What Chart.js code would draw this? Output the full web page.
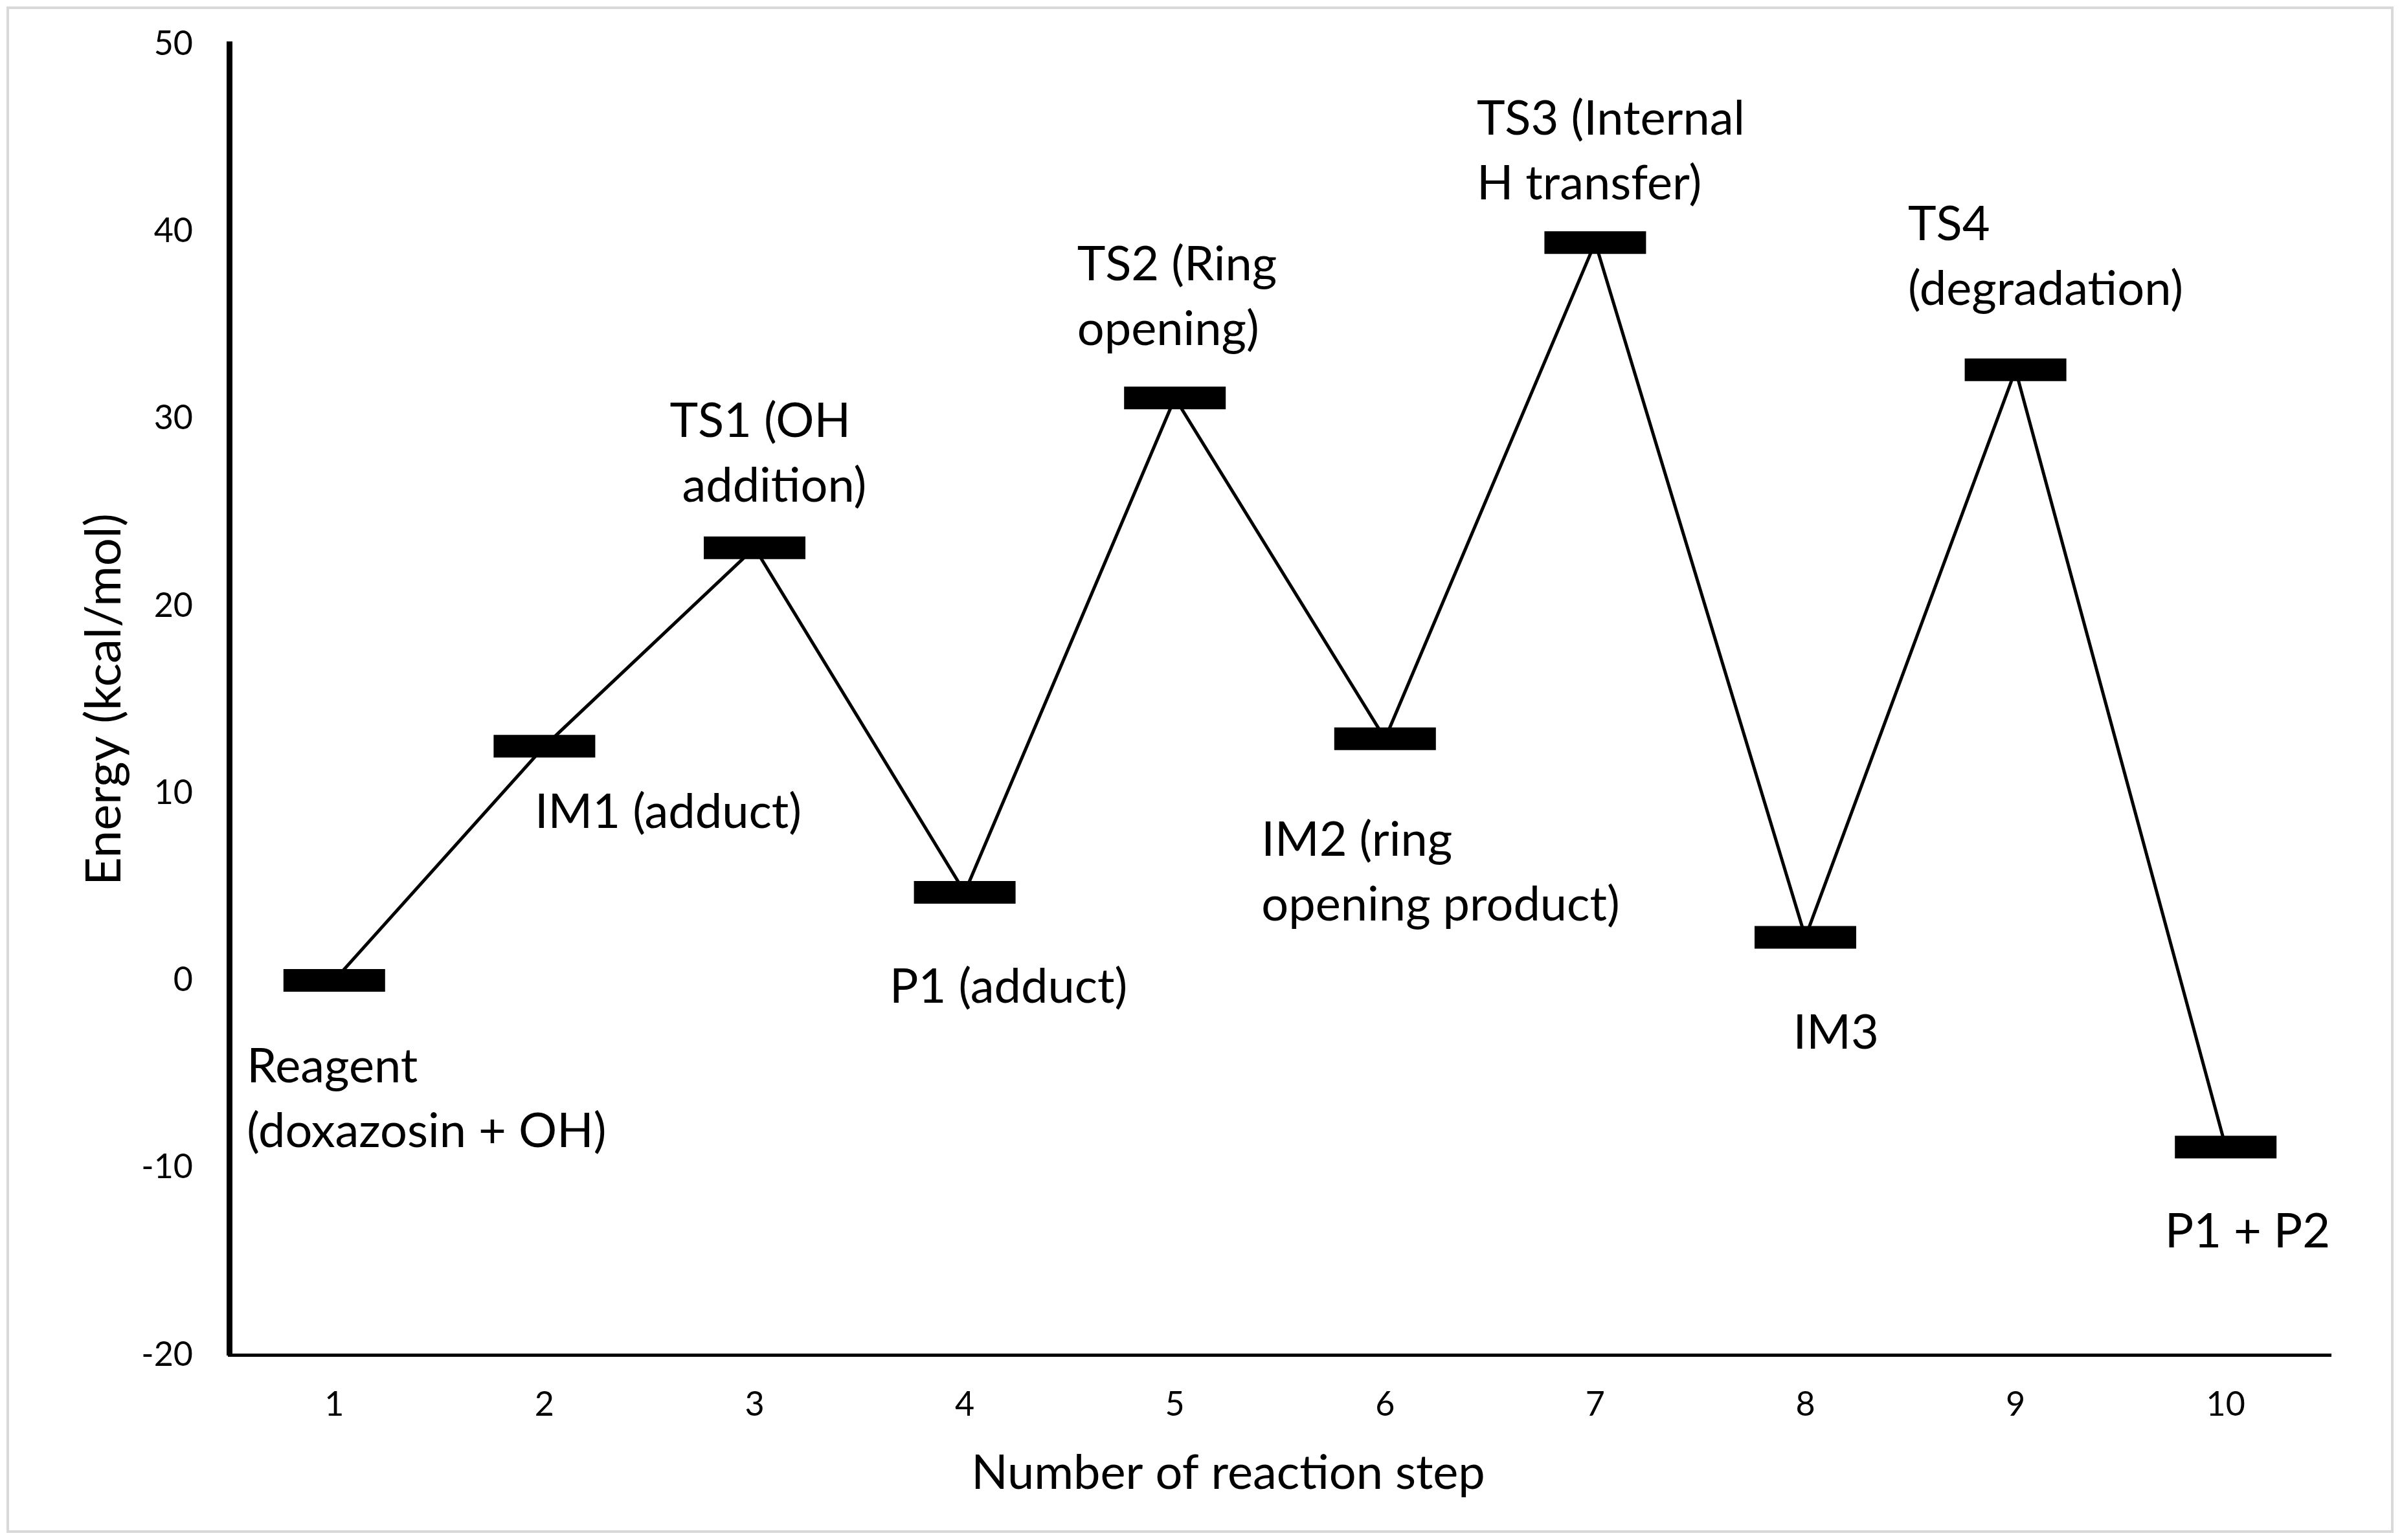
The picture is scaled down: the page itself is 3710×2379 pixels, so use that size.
<!DOCTYPE html>
<html>
<head>
<meta charset="utf-8">
<script src="https://cdn.jsdelivr.net/npm/chart.js@4.4.1/dist/chart.umd.min.js"></script>
<style>
  html, body { margin: 0; padding: 0; background: #ffffff; }
  #wrap { width: 3710px; height: 2379px; }
</style>
</head>
<body>
<div id="wrap"><canvas id="c" width="3710" height="2379"></canvas></div>
<script>
// ---- data ----
const categories = ['1', '2', '3', '4', '5', '6', '7', '8', '9', '10'];
const energies = [0, 12.5, 23.1, 4.7, 31.1, 12.9, 39.4, 2.3, 32.6, -8.9];
const stateLabels = [
  ['Reagent', '(doxazosin + OH)'],
  ['IM1 (adduct)'],
  ['TS1 (OH', ' addition)'],
  ['P1 (adduct)'],
  ['TS2 (Ring', 'opening)'],
  ['IM2 (ring', 'opening product)'],
  ['TS3 (Internal', 'H transfer)'],
  ['IM3'],
  ['TS4', '(degradation)'],
  ['P1 + P2']
];
const yMin = -20;
const yMax = 50;
const yStep = 10;
const xTitle = 'Number of reaction step';
const yTitle = 'Energy (kcal/mol)';

// ---- layout (label offsets from each point, in px: text left, first baseline) ----
const labelOffsets = [
  [-135, 158], [-15, 126], [-131, -171], [-116, 171], [-151, -182],
  [-191, 181], [-183, -167], [-19, 172], [-166, -200], [-94, 155]
];
const FONT = 'Lato, "Open Sans", "DejaVu Sans", sans-serif';

const frame = {
  id: 'frame',
  beforeDraw(chart) {
    const ctx = chart.ctx;
    ctx.save();
    ctx.fillStyle = '#ffffff';
    ctx.fillRect(0, 0, chart.width, chart.height);
    ctx.strokeStyle = '#d9d9d9';
    ctx.lineWidth = 4;
    ctx.strokeRect(12, 12, 3683, 2354);
    ctx.restore();
  }
};

const stateText = {
  id: 'stateText',
  afterDatasetsDraw(chart) {
    const ctx = chart.ctx;
    const meta = chart.getDatasetMeta(0);
    ctx.save();
    ctx.fillStyle = '#000000';
    ctx.font = '74px ' + FONT;
    ctx.textAlign = 'left';
    ctx.textBaseline = 'alphabetic';
    meta.data.forEach((pt, i) => {
      const [dx, dy] = labelOffsets[i];
      stateLabels[i].forEach((line, k) => {
        ctx.fillText(line, pt.x + dx, pt.y + dy + k * 100);
      });
    });
    // x-axis title, placed as in the original (slightly left of centre)
    ctx.font = '74px ' + FONT;
    ctx.textAlign = 'center';
    ctx.fillText(xTitle, 1897, 2300);
    ctx.restore();
  }
};

new Chart(document.getElementById('c'), {
  type: 'line',
  data: {
    labels: categories,
    datasets: [{
      data: energies,
      borderColor: '#000000',
      borderWidth: 5,
      tension: 0,
      pointStyle: 'line',
      pointRadius: 78.5,
      pointHoverRadius: 78.5,
      pointBorderWidth: 35,
      pointHoverBorderWidth: 35,
      pointBorderColor: '#000000',
      pointBackgroundColor: '#000000',
      clip: false
    }]
  },
  options: {
    responsive: false,
    devicePixelRatio: 1,
    animation: false,
    events: [],
    layout: { autoPadding: false, padding: { top: 68, right: 110, bottom: 0, left: 0 } },
    plugins: {
      legend: { display: false },
      tooltip: { enabled: false },
      title: { display: false }
    },
    scales: {
      x: {
        type: 'category',
        offset: true,
        grid: { display: false, drawTicks: false, tickLength: 0 },
        border: { display: true, color: '#000000', width: 5 },
        ticks: {
          color: '#000000',
          font: { family: FONT, size: 52 },
          padding: 46,
          maxRotation: 0,
          autoSkip: false
        },
        title: { display: false },
        afterFit(scale) { scale.height = 286; scale.paddingLeft = 0; scale.paddingRight = 0; }
      },
      y: {
        min: yMin,
        max: yMax,
        grid: { display: false, drawTicks: false, tickLength: 0 },
        border: { display: true, color: '#000000', width: 9 },
        ticks: {
          stepSize: yStep,
          color: '#000000',
          font: { family: FONT, size: 52 },
          padding: 56
        },
        title: {
          display: true,
          text: yTitle,
          color: '#000000',
          font: { family: FONT, size: 76 },
          padding: { top: 116, bottom: 0 }
        },
        afterFit(scale) { scale.width = 354; scale.paddingTop = 0; scale.paddingBottom = 0; }
      }
    }
  },
  plugins: [frame, stateText]
});
</script>
</body>
</html>
